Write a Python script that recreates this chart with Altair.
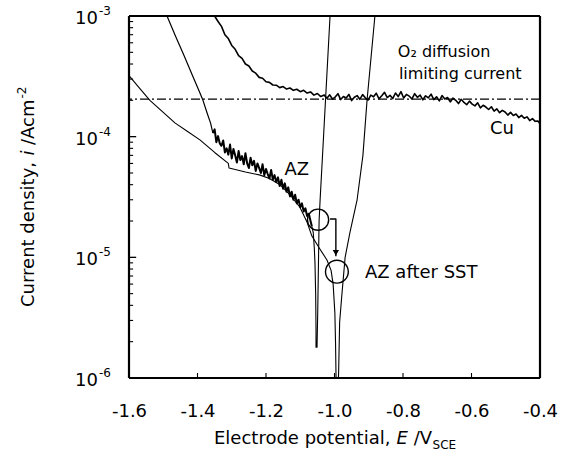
import altair as alt
import pandas as pd

FONT = "DejaVu Sans"

# ---------------- data ----------------
cu_E = [-1.350, -1.340, -1.330, -1.320, -1.310, -1.300, -1.290, -1.280, -1.270, -1.260,
        -1.250, -1.240, -1.230, -1.220, -1.210, -1.200, -1.190, -1.180, -1.170, -1.160,
        -1.150, -1.140, -1.130, -1.120, -1.110, -1.100, -1.090, -1.080, -1.070, -1.060,
        -1.050, -1.040, -1.030,
        -1.022, -1.014, -1.006, -0.998, -0.990, -0.982, -0.974, -0.966, -0.958, -0.950,
        -0.942, -0.934, -0.926, -0.918, -0.910, -0.902, -0.894, -0.886, -0.878, -0.870,
        -0.862, -0.854, -0.846, -0.838, -0.830, -0.822, -0.814, -0.806, -0.798, -0.790,
        -0.782, -0.774, -0.766, -0.758, -0.750, -0.742, -0.734, -0.726, -0.718, -0.710,
        -0.702, -0.694, -0.686, -0.678, -0.670, -0.662, -0.654, -0.646, -0.638, -0.630,
        -0.622, -0.614, -0.606, -0.598, -0.590, -0.582, -0.574, -0.566, -0.558, -0.550,
        -0.542, -0.534, -0.526, -0.518, -0.510, -0.502, -0.494, -0.486, -0.478, -0.470,
        -0.462, -0.454, -0.446, -0.438, -0.430, -0.422, -0.414, -0.406, -0.400]
cu_i = [1.00e-3, 9.0e-4, 8.2e-4, 7.0e-4, 6.5e-4, 5.7e-4, 5.3e-4, 4.7e-4, 4.45e-4, 4.0e-4,
        3.85e-4, 3.5e-4, 3.36e-4, 3.1e-4, 3.05e-4, 2.85e-4, 2.82e-4, 2.68e-4, 2.67e-4, 2.55e-4,
        2.6e-4, 2.48e-4, 2.53e-4, 2.42e-4, 2.47e-4, 2.36e-4, 2.42e-4, 2.30e-4, 2.35e-4, 2.21e-4,
        2.28e-4, 2.15e-4, 2.21e-4,
        2.08e-4, 2.22e-4, 2.05e-4, 2.13e-4, 2.27e-4, 2.03e-4, 2.15e-4, 2.09e-4, 2.24e-4, 1.99e-4,
        2.12e-4, 2.19e-4, 2.04e-4, 2.23e-4, 2.10e-4, 2.01e-4, 2.21e-4, 2.14e-4, 2.29e-4, 2.06e-4,
        2.18e-4, 2.33e-4, 2.11e-4, 2.20e-4, 2.07e-4, 2.30e-4, 2.15e-4, 2.36e-4, 2.09e-4, 2.24e-4,
        2.17e-4, 2.05e-4, 2.27e-4, 2.12e-4, 2.21e-4, 2.02e-4, 2.18e-4, 2.10e-4, 2.25e-4, 2.03e-4,
        2.14e-4, 1.98e-4, 2.19e-4, 2.05e-4, 2.11e-4, 1.94e-4, 2.09e-4, 2.00e-4, 1.88e-4, 2.04e-4,
        1.92e-4, 1.84e-4, 1.97e-4, 1.86e-4, 1.80e-4, 1.91e-4, 1.73e-4, 1.82e-4, 1.76e-4, 1.68e-4,
        1.77e-4, 1.63e-4, 1.70e-4, 1.58e-4, 1.65e-4, 1.60e-4, 1.51e-4, 1.59e-4, 1.50e-4, 1.54e-4,
        1.44e-4, 1.50e-4, 1.42e-4, 1.46e-4, 1.36e-4, 1.41e-4, 1.34e-4, 1.35e-4, 1.28e-4]

az_E = [-1.489, -1.465, -1.440, -1.415, -1.395, -1.384, -1.372, -1.362,
        -1.355, -1.350, -1.345, -1.340, -1.335, -1.330, -1.325, -1.320, -1.315, -1.310,
        -1.305, -1.300, -1.295, -1.290, -1.285, -1.280, -1.275, -1.270, -1.265, -1.260,
        -1.255, -1.250, -1.245, -1.240, -1.235, -1.230, -1.225, -1.220, -1.215, -1.210,
        -1.205, -1.200, -1.195, -1.190, -1.185, -1.180, -1.175, -1.170, -1.165, -1.160,
        -1.155, -1.150, -1.145, -1.140, -1.135, -1.130, -1.125, -1.120, -1.115, -1.110,
        -1.105, -1.100, -1.095, -1.090, -1.085, -1.080, -1.075, -1.070, -1.066, -1.062,
        -1.059, -1.057, -1.055, -1.054, -1.054,
        -1.051, -1.049, -1.048, -1.045, -1.042, -1.032, -1.0225, -1.013]
az_i = [1.0e-3, 6.9e-4, 4.75e-4, 3.23e-4, 2.38e-4, 2.0e-4, 1.57e-4, 1.3e-4,
        1.07e-4, 1.15e-4, 9.0e-5, 1.01e-4, 8.8e-5, 8.4e-5, 9.3e-5, 7.4e-5, 8.0e-5, 7.1e-5,
        8.6e-5, 6.6e-5, 7.9e-5, 7.0e-5, 6.1e-5, 7.6e-5, 6.4e-5, 6.9e-5, 5.9e-5, 7.3e-5,
        6.0e-5, 5.5e-5, 6.7e-5, 5.8e-5, 6.3e-5, 5.2e-5, 6.0e-5, 5.5e-5, 5.0e-5, 5.9e-5,
        4.8e-5, 5.4e-5, 4.9e-5, 4.5e-5, 5.3e-5, 4.4e-5, 4.8e-5, 4.2e-5, 4.6e-5, 3.9e-5,
        4.4e-5, 3.7e-5, 4.1e-5, 3.5e-5, 3.8e-5, 3.2e-5, 3.5e-5, 3.0e-5, 3.3e-5, 2.8e-5,
        3.0e-5, 2.6e-5, 2.8e-5, 2.4e-5, 2.55e-5, 2.2e-5, 2.3e-5, 2.0e-5, 1.8e-5, 1.6e-5,
        1.2e-5, 9.0e-6, 5.0e-6, 2.5e-6, 1.8e-6,
        1.8e-6, 3.5e-6, 5.4e-6, 2.0e-5, 3.0e-5, 1.0e-4, 3.16e-4, 1.0e-3]

sst_E = [-1.600, -1.570, -1.539, -1.500, -1.466, -1.430, -1.393, -1.350, -1.310, -1.308,
         -1.260, -1.217, -1.190, -1.159, -1.130, -1.101, -1.080, -1.066, -1.045, -1.022,
         -1.010, -1.004, -0.999, -0.997, -0.995,
         -0.990, -0.988, -0.985, -0.979, -0.969, -0.955, -0.934, -0.917, -0.905, -0.882]
sst_i = [3.2e-4, 2.54e-4, 2.0e-4, 1.59e-4, 1.3e-4, 1.11e-4, 9.4e-5, 7.4e-5, 6.0e-5, 5.5e-5,
         5.1e-5, 4.8e-5, 4.5e-5, 4.0e-5, 3.3e-5, 2.6e-5, 1.95e-5, 1.5e-5, 1.2e-5, 9.5e-6,
         7.8e-6, 6.0e-6, 3.5e-6, 2.0e-6, 8e-7,
         8e-7, 1.1e-6, 2.9e-6, 4.7e-6, 1.0e-5, 1.6e-5, 3.0e-5, 7.0e-5, 2.0e-4, 1.0e-3]

o2_limit = 2.05e-4

circ_E = [-1.048, -0.993]
circ_i = [2.05e-5, 7.6e-6]
circ_size = [450, 520]
arrow_E = [-1.013, -0.996, -0.996]
arrow_i = [2.08e-5, 2.08e-5, 1.02e-5]
arrowhead_E = [-0.996]
arrowhead_i = [1.09e-5]

x_ticks = [-1.6, -1.4, -1.2, -1.0, -0.8, -0.6, -0.4]
y_major = [1e-6, 1e-5, 1e-4, 1e-3]
y_major_exp = ["-6", "-5", "-4", "-3"]
y_minor = [m * 10.0 ** e for e in (-6, -5, -4) for m in range(2, 10)]
E_lo, E_hi = -1.6, -0.4
i_lo, i_hi = 1e-6, 1e-3

FRAME = "black"

# ---------------- chart ----------------
W, H = 411, 362
xs = alt.Scale(domain=[E_lo, E_hi], nice=False, zero=False)
ys = alt.Scale(type="log", domain=[i_lo, i_hi], nice=False)
xaxis = alt.Axis(values=x_ticks, title=None, ticks=False, domain=False, grid=False,
                 labelFont=FONT, labelFontSize=18, labelColor="black", labelPadding=24,
                 labelOverlap=False, labelFlush=False,
                 labelExpr="datum.value < 0 ? '-' + format(-datum.value, '.1f') : format(datum.value, '.1f')")


def X(f):
    return alt.X(f, scale=xs, axis=xaxis)


def Y(f):
    return alt.Y(f, scale=ys, axis=None)


def curve(E, I, sw):
    df = pd.DataFrame({"E": E, "i": I, "k": list(range(len(E)))})
    return alt.Chart(df).mark_line(color="black", strokeWidth=sw, clip=True,
                                   strokeJoin="round").encode(
        x=X("E:Q"), y=Y("i:Q"), order="k:Q")


one = pd.DataFrame({"a": [0]})

layers = []
layers.append(curve(cu_E, cu_i, 1.6))
layers.append(curve(az_E[0:9], az_i[0:9], 1.2))
layers.append(curve(az_E[8:67], az_i[8:67], 2.0))
layers.append(curve(az_E[66:], az_i[66:], 1.1))
layers.append(curve(sst_E, sst_i, 1.1))

layers.append(alt.Chart(pd.DataFrame({"v": [o2_limit]})).mark_rule(
    color="black", strokeWidth=1.3, strokeDash=[9, 3, 2, 3]).encode(y=Y("v:Q")))

layers.append(alt.Chart(pd.DataFrame({"E": circ_E, "i": circ_i, "s": circ_size})).mark_point(
    shape="circle", filled=False, color="black", strokeWidth=1.4, opacity=1).encode(
    x=X("E:Q"), y=Y("i:Q"), size=alt.Size("s:Q", scale=None)))

layers.append(curve(arrow_E, arrow_i, 1.4))
layers.append(alt.Chart(pd.DataFrame({"E": arrowhead_E, "i": arrowhead_i})).mark_point(
    shape="triangle-down", filled=True, color="black", size=40, opacity=1).encode(
    x=X("E:Q"), y=Y("i:Q")))

# plot frame
layers.append(alt.Chart(pd.DataFrame({"v": [i_lo, i_hi]})).mark_rule(
    color=FRAME, strokeWidth=2.2).encode(y=Y("v:Q")))
layers.append(alt.Chart(pd.DataFrame({"v": [E_lo, E_hi]})).mark_rule(
    color=FRAME, strokeWidth=2.2).encode(x=X("v:Q")))

# inner ticks
ymaj = pd.DataFrame({"v": y_major, "a": [E_lo] * 4, "b": [E_lo + 0.021] * 4})
ymin = pd.DataFrame({"v": y_minor, "a": [E_lo] * len(y_minor), "b": [E_lo + 0.012] * len(y_minor)})
xtk = pd.DataFrame({"v": x_ticks, "a": [i_lo] * len(x_ticks), "b": [1.1e-6] * len(x_ticks)})
layers.append(alt.Chart(ymaj).mark_rule(color=FRAME, strokeWidth=1.3).encode(
    y=Y("v:Q"), x=X("a:Q"), x2="b:Q"))
layers.append(alt.Chart(ymin).mark_rule(color=FRAME, strokeWidth=1.1).encode(
    y=Y("v:Q"), x=X("a:Q"), x2="b:Q"))
layers.append(alt.Chart(xtk).mark_rule(color=FRAME, strokeWidth=1.1).encode(
    x=X("v:Q"), y=Y("a:Q"), y2="b:Q"))

ylab = pd.DataFrame({"v": y_major, "e": y_major_exp})
layers.append(alt.Chart(ylab).mark_text(font=FONT, fontSize=18, align="right", baseline="middle",
                                        dy=3, color="black").encode(
    y=Y("v:Q"), x=alt.value(-31), text=alt.value("10")))
layers.append(alt.Chart(ylab).mark_text(font=FONT, fontSize=12, align="left", baseline="middle",
                                        dy=-5, color="black").encode(
    y=Y("v:Q"), x=alt.value(-30), text="e:N"))


def note(E, I, t, size, align):
    return alt.Chart(pd.DataFrame({"E": [E], "i": [I], "t": [t]})).mark_text(
        font=FONT, fontSize=size, align=align, baseline="middle", color="black").encode(
        x=X("E:Q"), y=Y("i:Q"), text="t:N")


layers.append(note(-0.815, 5.0e-4, "O₂ diffusion", 16, "left"))
layers.append(note(-0.812, 3.3e-4, "limiting current", 16, "left"))
layers.append(note(-0.511, 1.16e-4, "Cu", 18, "center"))
layers.append(note(-1.110, 5.3e-5, "AZ", 18, "center"))
layers.append(note(-0.911, 7.4e-6, "AZ after SST", 18, "left"))


def txt(x, y, s, size=18, style="normal", align="left", angle=0):
    return alt.Chart(one).mark_text(font=FONT, fontSize=size, fontStyle=style, align=align,
                                    baseline="alphabetic" if angle == 0 else "middle",
                                    angle=angle, color="black").encode(
        x=alt.value(x), y=alt.value(y), text=alt.value(s))


x0 = 85
yb = 428
layers.append(txt(x0, yb, "Electrode potential,"))
layers.append(txt(x0 + 182.6, yb, "E", style="italic"))
layers.append(txt(x0 + 199.7, yb, "/V"))
layers.append(txt(x0 + 218.6, yb + 5, "SCE", size=12))

xt = -100
y0 = 291
layers.append(txt(xt, y0, "Current density,", angle=270))
layers.append(txt(xt, y0 - 151.5, "i", style="italic", angle=270))
layers.append(txt(xt, y0 - 162.0, "/Acm", angle=270))
layers.append(txt(xt - 7, y0 - 208.5, "-2", size=12, angle=270))

chart = alt.layer(*layers).properties(
    width=W, height=H,
    background="white",
    autosize=alt.AutoSizeParams(type="none"),
    padding={"left": 129, "top": 16, "right": 26, "bottom": 80},
)

chart.save("out.html", embed_options={"renderer": "svg", "actions": False})
